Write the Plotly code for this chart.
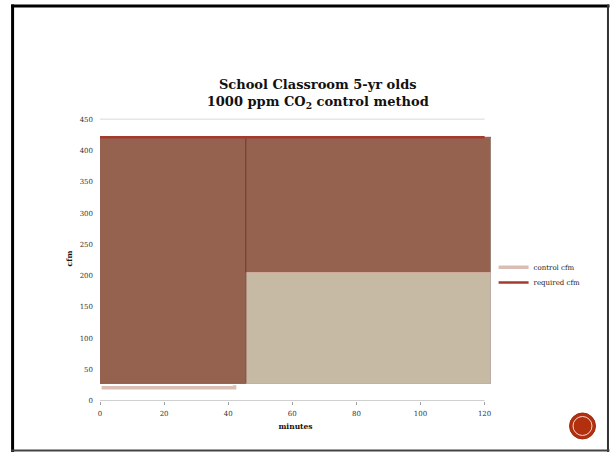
import plotly.graph_objects as go

# ---- data ----
minutes_ticks = [0, 20, 40, 60, 80, 100, 120]
cfm_ticks = [0, 50, 100, 150, 200, 250, 300, 350, 400, 450]

# control cfm series
control_minutes = [0.5, 42, 42]
control_cfm = [21, 21, 25]

# required cfm series
required_minutes = [0, 120]
required_cfm = [421, 421]

# filled regions under the series (start minute, top cfm)
region_start = [0, 45.5]
region_end = 122
region_floor = 28
region_top = [421, 205]
region_colors = ["#94624F", "#C7BAA5"]
region_edges = ["#94624F", "#D4AE9C"]

# ---- geometry helpers (pixel -> paper) for slide decoration ----
W, H = 611, 452
L, R_PX, T_PX, B_PX = 100, 491.4, 115.7, 401
def px(xp):
    return (xp - L) / (R_PX - L)
def py(yp):
    return (B_PX - yp) / (B_PX - T_PX)

fig = go.Figure()

# filled regions
for s, top, fc, ec in zip(region_start, region_top, region_colors, region_edges):
    fig.add_trace(go.Scatter(
        x=[s, region_end, region_end, s, s],
        y=[region_floor, region_floor, top, top, region_floor],
        mode="lines", fill="toself", fillcolor=fc,
        line=dict(color=ec, width=1), showlegend=False, hoverinfo="skip"))

# dark divider at the step
fig.add_trace(go.Scatter(
    x=[region_start[1], region_start[1]], y=[region_floor, region_top[0]],
    mode="lines", line=dict(color="#6E3A2D", width=1),
    showlegend=False, hoverinfo="skip"))
# grey edges of the big region
fig.add_trace(go.Scatter(
    x=[region_end, region_end], y=[region_floor, region_top[0] - 1],
    mode="lines", line=dict(color="#A6A6A6", width=1),
    showlegend=False, hoverinfo="skip"))

fig.add_trace(go.Scatter(
    x=control_minutes, y=control_cfm, mode="lines", name="control cfm",
    line=dict(color="#DCBDB3", width=3.5), legend="legend"))
fig.add_trace(go.Scatter(
    x=required_minutes, y=required_cfm, mode="lines", name="required cfm",
    line=dict(color="#A33A2E", width=2.5), legend="legend2"))

serif = "DejaVu Serif"
leg_common = dict(xanchor="left", yanchor="middle",
                  font=dict(family=serif, size=7, color="#222"),
                  bgcolor="rgba(0,0,0,0)", itemwidth=30, tracegroupgap=0)
fig.update_layout(
    width=W, height=H,
    margin=dict(l=L, r=W - R_PX, t=T_PX, b=H - B_PX, autoexpand=False),
    paper_bgcolor="white", plot_bgcolor="white",
    title=dict(
        text="<b>School Classroom 5-yr olds<br>1000 ppm CO<sub>2</sub> control method</b>",
        x=px(318), xanchor="center", xref="paper", y=1 - 89 / H, yanchor="top",
        font=dict(family=serif, size=13, color="#111")),
    showlegend=True,
    legend=dict(x=px(494), y=py(267), **leg_common),
    legend2=dict(x=px(494), y=py(282.5), **leg_common),
    xaxis=dict(range=[0, 122], tickvals=minutes_ticks, showgrid=False,
               zeroline=False, showline=False, ticks="outside", ticklen=3,
               tickcolor="#A0A0A0", ticklabelstandoff=3,
               tickfont=dict(family=serif, size=7, color="#333"),
               title=dict(text="<b>minutes</b>", standoff=6,
                          font=dict(family=serif, size=7.5, color="#111"))),
    yaxis=dict(range=[0, 455], tickvals=cfm_ticks, showgrid=False,
               zeroline=False, showline=False, ticks="", ticklabelstandoff=6,
               tickfont=dict(family=serif, size=7, color="#333"),
               title=dict(text="<b>cfm</b>", standoff=6,
                          font=dict(family=serif, size=7.5, color="#111"))),
)

shapes = []
# x axis line and top gridline
shapes.append(dict(type="line", xref="x", yref="y", x0=0, x1=minutes_ticks[-1],
                   y0=0, y1=0, line=dict(color="#A0A0A0", width=1)))
shapes.append(dict(type="line", xref="x", yref="y", x0=0, x1=minutes_ticks[-1],
                   y0=cfm_ticks[-1], y1=cfm_ticks[-1], line=dict(color="#D9D9D9", width=1)))
# slide border
shapes.append(dict(type="line", xref="paper", yref="paper", x0=px(12.5), x1=px(12.5),
                   y0=py(4), y1=py(452), line=dict(color="#000", width=3)))
shapes.append(dict(type="line", xref="paper", yref="paper", x0=px(11), x1=px(610),
                   y0=py(5.5), y1=py(5.5), line=dict(color="#000", width=3)))
shapes.append(dict(type="line", xref="paper", yref="paper", x0=px(608.5), x1=px(608.5),
                   y0=py(4), y1=py(452), line=dict(color="#333", width=2)))
shapes.append(dict(type="line", xref="paper", yref="paper", x0=px(11), x1=px(610),
                   y0=py(450.5), y1=py(450.5), line=dict(color="#444", width=2)))
# slide badge
shapes.append(dict(type="circle", xref="paper", yref="paper",
                   x0=px(570), x1=px(596), y0=py(439), y1=py(413),
                   fillcolor="#B3300F", line=dict(color="#9C2A0D", width=1)))
shapes.append(dict(type="circle", xref="paper", yref="paper",
                   x0=px(573.5), x1=px(592.5), y0=py(435.5), y1=py(416.5),
                   fillcolor="rgba(0,0,0,0)", line=dict(color="#F3D9D0", width=1)))
fig.update_layout(shapes=shapes)

fig.write_html("out.html")
